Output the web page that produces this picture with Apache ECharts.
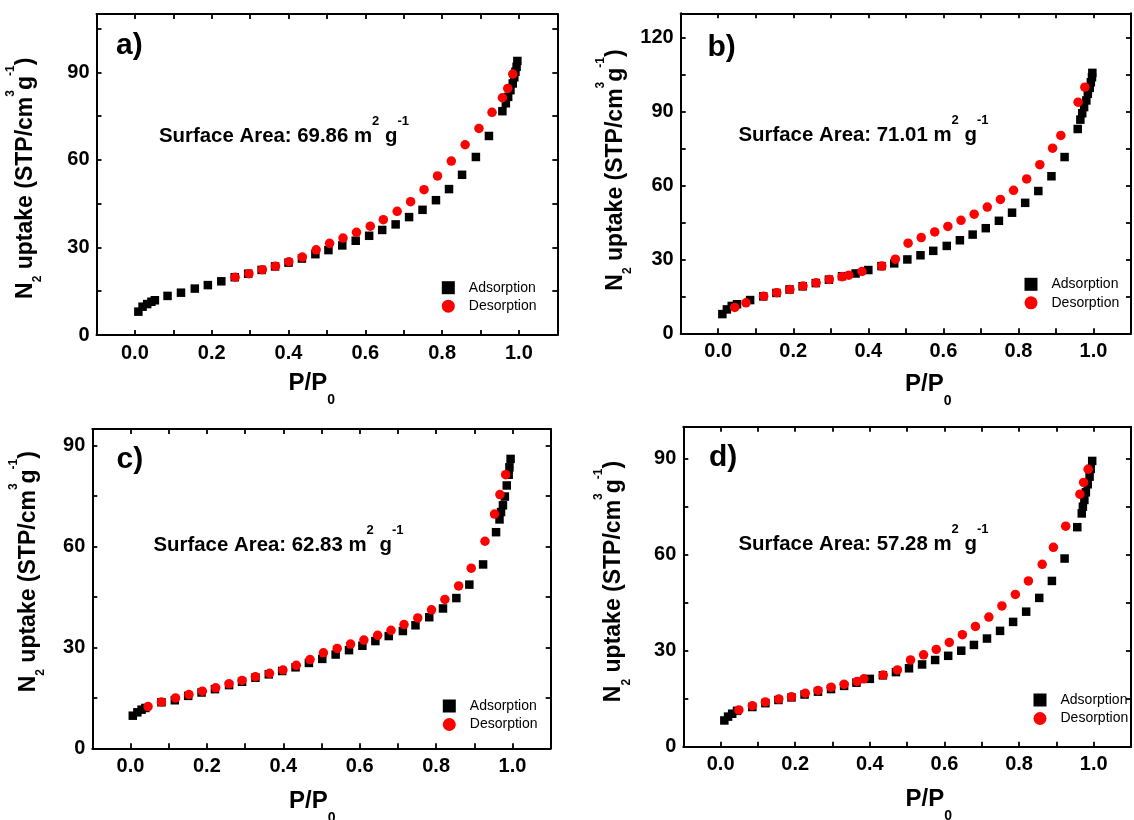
<!DOCTYPE html>
<html>
<head>
<meta charset="utf-8">
<script src="https://cdn.jsdelivr.net/npm/echarts@6/dist/echarts.min.js"></script>
<style>html,body{margin:0;padding:0;background:#fff}#chart{width:1134px;height:820px}</style>
</head>
<body>
<div id="chart"></div>
<script>
// ---------------- data ----------------
const panelLetters = ['a)', 'b)', 'c)', 'd)'];
const surfaceAreas = ['69.86', '71.01', '62.83', '57.28'];
const seriesNames = ['Adsorption', 'Desorption'];
const xTickLabels = ['0.0', '0.2', '0.4', '0.6', '0.8', '1.0'];
const yTickLabelsA = ['0', '30', '60', '90'];
const yTickLabelsB = ['0', '30', '60', '90', '120'];
const yTickLabelsC = ['0', '30', '60', '90'];
const yTickLabelsD = ['0', '30', '60', '90'];
const yMaxes = [110, 130, 95, 100];

const aAdsX = [0.009,0.020,0.032,0.043,0.052,0.085,0.120,0.156,0.190,0.225,0.260,0.295,0.330,0.365,0.400,0.435,0.470,0.504,0.540,0.575,0.610,0.644,0.679,0.714,0.749,0.784,0.818,0.852,0.888,0.922,0.957,0.966,0.972,0.978,0.984,0.988,0.991,0.994,0.996];
const aAdsY = [8.0,9.7,10.6,11.4,11.9,13.4,14.5,15.9,17.1,18.4,19.8,21.0,22.3,23.5,24.8,26.2,27.7,29.1,30.7,32.3,34.0,36.0,37.9,40.4,42.9,46.2,50.0,54.9,61.0,68.2,76.7,79.4,81.6,83.9,86.2,88.3,90.2,91.9,93.9];
const aDesX = [0.984,0.971,0.957,0.930,0.896,0.860,0.824,0.788,0.753,0.718,0.683,0.647,0.613,0.577,0.542,0.507,0.472,0.436,0.401,0.366,0.332,0.297,0.261];
const aDesY = [89.4,84.5,81.3,76.3,70.8,65.2,59.6,54.5,49.8,45.7,42.4,39.5,37.3,35.2,33.2,31.4,29.2,26.7,25.1,23.6,22.4,21.0,19.8];

const bAdsX = [0.011,0.023,0.036,0.050,0.085,0.120,0.155,0.190,0.225,0.260,0.295,0.330,0.366,0.400,0.435,0.469,0.504,0.539,0.573,0.609,0.644,0.678,0.713,0.748,0.783,0.818,0.853,0.888,0.923,0.958,0.965,0.970,0.975,0.981,0.985,0.990,0.993,0.996,0.997];
const bAdsY = [7.8,9.7,11.1,11.8,13.5,15.0,16.4,17.8,19.1,20.4,21.8,23.2,24.3,25.7,27.3,28.4,30.0,31.7,33.5,35.5,37.8,40.1,42.7,45.7,49.0,53.0,57.8,63.8,71.6,83.0,86.8,89.4,91.9,94.6,97.3,99.7,102.0,104.0,105.8];
const bDesX = [0.977,0.959,0.913,0.891,0.857,0.822,0.787,0.752,0.717,0.682,0.647,0.612,0.577,0.541,0.506,0.472,0.436,0.383,0.348,0.330,0.296,0.261,0.226,0.191,0.156,0.121,0.074,0.044];
const bDesY = [100.0,93.9,80.4,75.2,68.5,62.7,58.1,54.4,51.3,48.4,45.9,43.4,41.2,38.9,36.6,30.1,27.3,25.1,23.6,23.0,21.9,20.5,19.2,17.8,16.5,15.1,12.4,10.5];

const cAdsX = [0.006,0.018,0.029,0.039,0.081,0.116,0.151,0.186,0.221,0.258,0.292,0.327,0.362,0.397,0.432,0.467,0.502,0.537,0.572,0.607,0.641,0.676,0.713,0.746,0.782,0.818,0.853,0.887,0.923,0.957,0.966,0.970,0.975,0.980,0.985,0.990,0.992,0.995];
const cAdsY = [9.7,10.7,11.5,12.0,13.7,14.3,15.6,16.6,17.6,18.8,19.8,21.0,22.0,23.0,24.1,25.4,26.6,27.9,29.2,30.5,31.9,33.4,34.9,36.6,39.0,41.6,44.7,48.7,54.7,64.3,68.1,70.3,72.3,74.9,78.2,81.4,83.6,86.1];
const cDesX = [0.982,0.967,0.953,0.928,0.892,0.859,0.823,0.788,0.752,0.716,0.682,0.647,0.611,0.576,0.541,0.505,0.470,0.434,0.399,0.364,0.327,0.292,0.258,0.223,0.188,0.153,0.118,0.081,0.046];
const cDesY = [81.4,75.5,69.7,61.6,53.6,48.3,44.3,41.2,38.8,36.8,35.1,33.6,32.2,31.0,29.7,28.4,26.4,24.7,23.3,22.3,21.3,20.2,19.2,18.0,17.0,16.0,15.0,13.8,12.4];

const dAdsX = [0.010,0.020,0.031,0.044,0.085,0.120,0.155,0.190,0.225,0.261,0.296,0.331,0.364,0.400,0.435,0.470,0.505,0.540,0.575,0.610,0.645,0.679,0.714,0.749,0.784,0.819,0.854,0.888,0.922,0.956,0.968,0.971,0.975,0.979,0.984,0.989,0.992,0.996];
const dAdsY = [8.2,9.4,10.3,11.2,12.4,13.6,14.6,15.4,16.3,17.2,18.0,19.0,20.0,21.2,22.3,23.3,24.5,25.7,27.1,28.4,30.0,31.8,33.8,36.2,39.0,42.2,46.5,51.8,58.8,68.6,72.9,75.0,77.1,79.5,82.0,84.4,86.8,89.3];
const dDesX = [0.985,0.973,0.963,0.925,0.892,0.862,0.825,0.790,0.754,0.719,0.683,0.648,0.613,0.578,0.544,0.509,0.474,0.436,0.384,0.366,0.331,0.296,0.261,0.227,0.190,0.156,0.120,0.085,0.049];
const dDesY = [86.7,82.6,78.9,68.9,62.3,57.0,51.8,47.6,44.0,40.5,37.6,35.0,32.6,30.4,28.7,27.1,24.0,22.4,21.2,20.4,19.5,18.6,17.6,16.7,15.6,14.9,14.0,12.8,11.5];

// ---------------- layout (pixels) ----------------
const FONT = '"Liberation Sans", Arial, Helvetica, sans-serif';
const layout = [
  {grid:{left:96.5, top:14, width:460.8, height:321}, letter:[116, 45.5], sa:[159, 136.5], ylab:[25.2, 178.3], xlab:[288.5, 383.8], legend:[441.8, 280.7]},
  {grid:{left:680.7, top:13.3, width:460.4, height:320}, letter:[707.5, 48.1], sa:[738.5, 135.5], ylab:[615.6, 170], xlab:[905, 384.8], legend:[1024.5, 277.3]},
  {grid:{left:92.3, top:429, width:458.4, height:319.3}, letter:[116.5, 459.8], sa:[153.5, 545.5], ylab:[28.6, 571.7], xlab:[289, 801.8], legend:[442.8, 699]},
  {grid:{left:683.3, top:426.7, width:459.2, height:320}, letter:[709, 458.1], sa:[738.5, 544.2], ylab:[613.7, 581.5], xlab:[905.5, 799.8], legend:[1033.5, 693]}
];

const panelData = [
  {ads:[aAdsX, aAdsY], des:[aDesX, aDesY], yLabels: yTickLabelsA},
  {ads:[bAdsX, bAdsY], des:[bDesX, bDesY], yLabels: yTickLabelsB},
  {ads:[cAdsX, cAdsY], des:[cDesX, cDesY], yLabels: yTickLabelsC},
  {ads:[dAdsX, dAdsY], des:[dDesX, dDesY], yLabels: yTickLabelsD}
];

function zip(xs, ys) { return xs.map((x, i) => [x, ys[i]]); }

const grids = [], xAxes = [], yAxes = [], series = [], legends = [], graphics = [];
const axisLine = {show:true, onZero:false, lineStyle:{color:'#000', width:2}};
const axisTick = {show:true, inside:true, length:5, lineStyle:{color:'#000', width:1.8}};

layout.forEach((L, i) => {
  const P = panelData[i];
  grids.push(Object.assign({containLabel:false}, L.grid));
  const xLabelFmt = v => {
    const k = Math.round(v * 10);
    if (k >= 0 && k % 2 === 0 && k / 2 < xTickLabels.length) return xTickLabels[k / 2];
    return '';
  };
  const yLabelFmt = v => {
    const s = String(Math.round(v));
    return P.yLabels.indexOf(s) >= 0 ? s : '';
  };
  const baseX = {type:'value', gridIndex:i, min:-0.1, max:1.1, interval:0.1,
    axisLine, axisTick, splitLine:{show:false}};
  xAxes.push(Object.assign({}, baseX, {position:'bottom',
    axisLabel:{show:true, formatter:xLabelFmt, color:'#000', fontSize:20, fontWeight:'bold', fontFamily:FONT, margin:8, showMinLabel:true, showMaxLabel:true}}));
  xAxes.push(Object.assign({}, baseX, {position:'top', axisLabel:{show:false}}));
  const baseY = {type:'value', gridIndex:i, min:0, max:yMaxes[i], interval:15,
    axisLine, axisTick, splitLine:{show:false}};
  yAxes.push(Object.assign({}, baseY, {position:'left',
    axisLabel:{show:true, formatter:yLabelFmt, color:'#000', fontSize:20, fontWeight:'bold', fontFamily:FONT, margin:7, showMinLabel:true, showMaxLabel:true}}));
  yAxes.push(Object.assign({}, baseY, {position:'right', axisLabel:{show:false}}));

  series.push({name:seriesNames[0], type:'scatter', xAxisIndex:2*i, yAxisIndex:2*i,
    symbol:'rect', symbolSize:8.5, itemStyle:{color:'#000', opacity:1}, data:zip(P.ads[0], P.ads[1]), z:2});
  series.push({name:seriesNames[1], type:'scatter', xAxisIndex:2*i, yAxisIndex:2*i,
    symbol:'circle', symbolSize:9.5, itemStyle:{color:'#ff0000', opacity:1}, data:zip(P.des[0], P.des[1]), z:3});

  legends.push({left:L.legend[0], top:L.legend[1], orient:'vertical', padding:0,
    itemWidth:13, itemHeight:13, itemGap:4.5, selectedMode:false,
    data:[{name:seriesNames[0], icon:'rect'}, {name:seriesNames[1], icon:'circle'}],
    textStyle:{fontSize:14, color:'#000', fontFamily:FONT, padding:[0,0,0,9]}});

  graphics.push({type:'text', x:L.letter[0], y:L.letter[1], z:100,
    style:{text:panelLetters[i], fill:'#000', font:'bold 30px ' + FONT,
      align:'left', verticalAlign:'middle', textAlign:'left', textVerticalAlign:'middle'}});

  graphics.push({type:'text', x:L.sa[0], y:L.sa[1], z:100,
    style:{text:'{t|Surface Area: ' + surfaceAreas[i] + ' m}{sup|2}{t| g}{sup|-1}', fill:'#000',
      align:'left', verticalAlign:'middle', textAlign:'left', textVerticalAlign:'middle',
      rich:{
        t:{fontSize:20.4, fontWeight:'bold', fontFamily:FONT, fill:'#000'},
        sup:{fontSize:13, fontWeight:'bold', fontFamily:FONT, fill:'#000', padding:[0,0,30,0]}
      }}});

  graphics.push({type:'text', x:L.ylab[0], y:L.ylab[1], rotation:Math.PI/2, z:100,
    style:{text:'{m|N}{sub|2}{m| uptake (STP/cm}{sup|3}{m|g}{sup|-1}{m|)}', fill:'#000',
      align:'center', verticalAlign:'middle', textAlign:'center', textVerticalAlign:'middle',
      rich:{
        m:{fontSize:23, fontWeight:'bold', fontFamily:FONT, fill:'#000'},
        sub:{fontSize:12, fontWeight:'bold', fontFamily:FONT, fill:'#000', padding:[25,0,0,0]},
        sup:{fontSize:12, fontWeight:'bold', fontFamily:FONT, fill:'#000', padding:[0,0,30,0]}
      }}});

  graphics.push({type:'text', x:L.xlab[0], y:L.xlab[1], z:100,
    style:{text:'{m|P/P}{sub|0}', fill:'#000',
      align:'left', verticalAlign:'middle', textAlign:'left', textVerticalAlign:'middle',
      rich:{
        m:{fontSize:24, fontWeight:'bold', fontFamily:FONT, fill:'#000'},
        sub:{fontSize:14, fontWeight:'bold', fontFamily:FONT, fill:'#000', padding:[32,0,0,0]}
      }}});
});

const chart = echarts.init(document.getElementById('chart'), null, {renderer:'canvas'});
chart.setOption({
  backgroundColor:'#fff',
  animation:false,
  textStyle:{fontFamily:FONT},
  grid:grids, xAxis:xAxes, yAxis:yAxes, series, legend:legends, graphic:graphics
});
</script>
</body>
</html>
